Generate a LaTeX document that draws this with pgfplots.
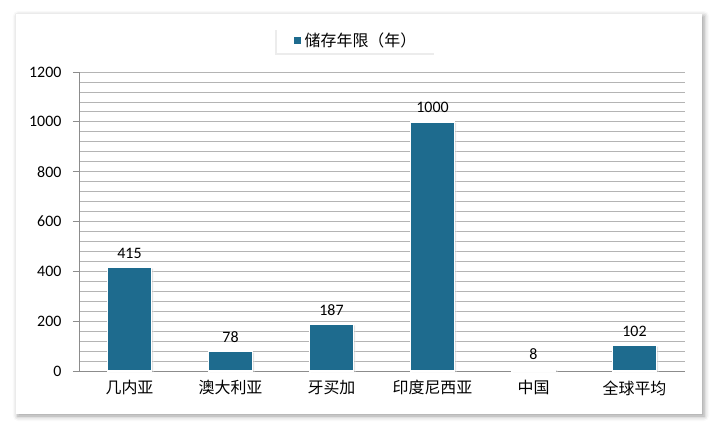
\documentclass[border=0pt]{standalone}
\usepackage{fontspec}
\setmainfont{Carlito}
\newfontfamily\cjk{Noto Sans CJK SC}
\usepackage{pgfplots}
\pgfplotsset{compat=1.18}
\usetikzlibrary{shadows,shadows.blur,backgrounds}
\definecolor{barc}{HTML}{1E6B8E}
\definecolor{gridc}{HTML}{B4B4B4}
\definecolor{axisc}{HTML}{8C8C8C}

\begin{document}
\begin{tikzpicture}
\begin{axis}[
    name=ax,
    width=606bp, height=299bp, scale only axis,
    xmin=-0.5, xmax=5.5, ymin=0, ymax=1200,
    xtick=data,
    xticklabels={几内亚,澳大利亚,牙买加,印度尼西亚,中国,全球平均},
    xticklabel style={font=\cjk\fontsize{16}{16}\selectfont, yshift=0bp},
    x tick style={draw=none},
    ytick={0,200,...,1200},
    minor y tick num=4,
    ymajorgrids, yminorgrids,
    major grid style={gridc, line width=0.8bp},
    minor grid style={gridc, line width=0.8bp},
    yticklabel style={font=\fontsize{16}{16}\selectfont, xshift=-8bp},
    /pgf/number format/assume math mode=true,
    /pgf/number format/1000 sep={},
    y tick style={axisc, line width=0.8bp},
    ytick align=outside, major tick length=6bp, minor tick length=0bp,
    axis x line*=bottom, axis y line*=left,
    axis line style={axisc, line width=0.8bp, -},
    ybar, bar width=44bp,
    nodes near coords,
    every node near coord/.append style={font=\fontsize{16}{16}\selectfont, black, yshift=5bp},
    clip=false,
    legend style={
        at={(0.5,1.0)}, anchor=south, yshift=19bp, xshift=-26bp,
        draw=none, fill=white,
        drop shadow={shadow xshift=-1.5bp, shadow yshift=-2bp, opacity=0.15},
        font=\cjk\fontsize{16}{16}\selectfont,
        inner xsep=17bp, inner ysep=3bp,
    },
    legend image code/.code={
        \pgfsetfillcolor{barc}
        \pgfpathrectangle{\pgfpoint{0bp}{-3.5bp}}{\pgfpoint{7bp}{7bp}}
        \pgfusepath{fill}
        \pgfpathrectangle{\pgfpoint{0bp}{0bp}}{\pgfpoint{9bp}{0bp}}
        \pgfusepath{}
    },
]
\addplot[fill=barc, draw=white, line width=1.5bp,
    drop shadow={shadow xshift=1.5bp, shadow yshift=-1bp, opacity=0.3}]
    coordinates {(0,415) (1,78) (2,187) (3,1000) (4,8) (5,102)};
\addlegendentry{储存年限（年）}
\coordinate (O) at (rel axis cs:0,0);
\end{axis}
\begin{scope}[on background layer, shift={(O)}, x=1bp, y=1bp]
  % page size
  \path (-79,-58) rectangle (639,371);
  % chart frame
  \fill[white, blur shadow={shadow xshift=2bp, shadow yshift=-2bp, shadow blur radius=5bp, shadow opacity=40}]
    (-63,-43) rectangle (623,357);
\end{scope}
\end{tikzpicture}
\end{document}
